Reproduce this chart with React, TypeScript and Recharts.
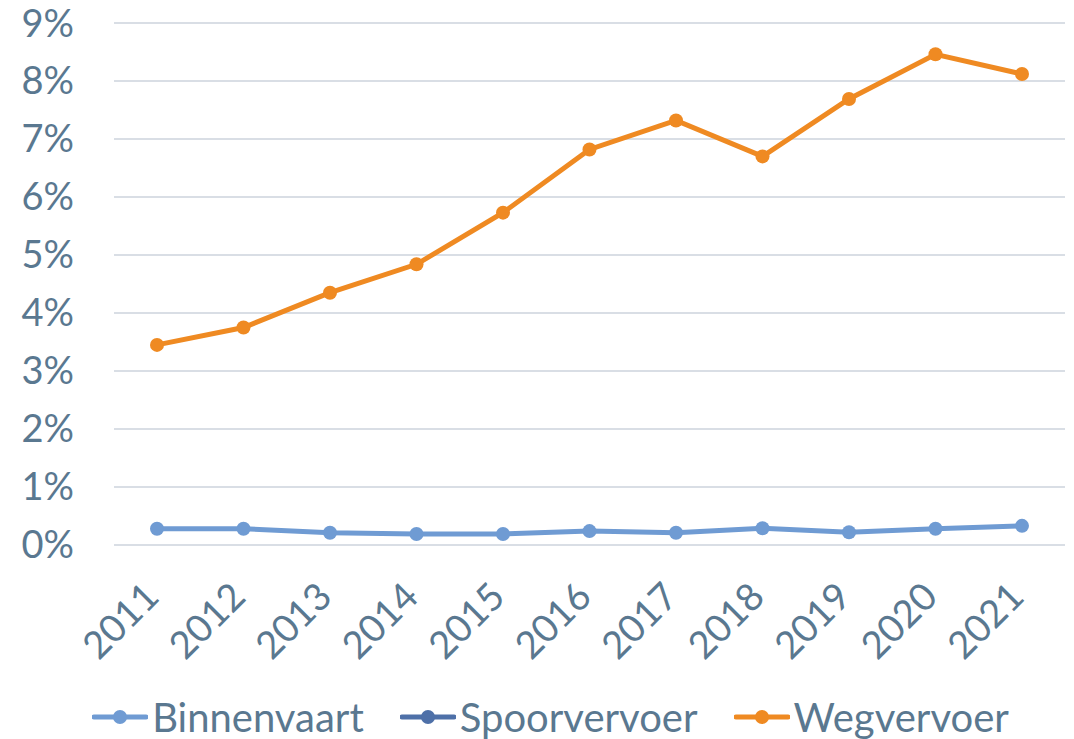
import { CartesianGrid, Legend, Line, LineChart, XAxis, YAxis } from 'recharts'

const years = ['2011', '2012', '2013', '2014', '2015', '2016', '2017', '2018', '2019', '2020', '2021']
const binnenvaart = [0.28, 0.28, 0.21, 0.19, 0.19, 0.24, 0.21, 0.29, 0.22, 0.28, 0.33]
const spoorvervoer: (number | null)[] = [null, null, null, null, null, null, null, null, null, null, null]
const wegvervoer = [3.45, 3.75, 4.35, 4.84, 5.73, 6.82, 7.32, 6.7, 7.69, 8.46, 8.12]
const yTicks = [0, 1, 2, 3, 4, 5, 6, 7, 8, 9]

const SERIES = [
  { key: 'Binnenvaart', color: '#6f9bd3' },
  { key: 'Spoorvervoer', color: '#4e70a8' },
  { key: 'Wegvervoer', color: '#ef8a22' },
]

const TEXT = '#5a7890'
const FONT = 'Lato, "Open Sans", sans-serif'

const data = years.map((year, i) => ({
  year,
  Binnenvaart: binnenvaart[i],
  Spoorvervoer: spoorvervoer[i],
  Wegvervoer: wegvervoer[i],
}))

function YearTick({ x, y, payload }: any) {
  const ax = x + 4
  const ay = y + 46
  return (
    <text
      x={ax}
      y={ay}
      transform={`rotate(-45, ${ax}, ${ay})`}
      textAnchor="end"
      fill={TEXT}
      fontSize={38}
      fontFamily={FONT}
    >
      {payload.value}
    </text>
  )
}

function LegendContent() {
  return (
    <div
      style={{
        display: 'flex',
        justifyContent: 'center',
        alignItems: 'center',
        gap: 36,
        height: 74,
        paddingTop: 30,
        paddingLeft: 36,
        boxSizing: 'border-box',
        fontFamily: FONT,
        fontSize: 40,
        color: TEXT,
      }}
    >
      {SERIES.map((s) => (
        <div key={s.key} style={{ display: 'flex', alignItems: 'center' }}>
          <svg width={56} height={20} style={{ marginRight: 4 }}>
            <line x1={2} y1={10} x2={54} y2={10} stroke={s.color} strokeWidth={5} strokeLinecap="round" />
            <circle cx={28} cy={10} r={7} fill={s.color} />
          </svg>
          <span>{s.key}</span>
        </div>
      ))}
    </div>
  )
}

export default function App() {
  return (
    <div style={{ position: 'absolute', left: 0, top: 0, background: '#fff' }}>
      <LineChart width={1074} height={739} data={data} margin={{ top: 23, right: 9, left: 0, bottom: 0 }}>
        <CartesianGrid vertical={false} stroke="#d9dee5" strokeWidth={2} />
        <XAxis
          dataKey="year"
          height={120}
          axisLine={{ stroke: '#d9dee5', strokeWidth: 2 }}
          tickLine={false}
          padding={{ left: 43, right: 43 }}
          tick={<YearTick />}
          interval={0}
        />
        <YAxis
          width={114}
          domain={[0, 9]}
          ticks={yTicks}
          axisLine={false}
          tickLine={false}
          tickSize={0}
          tickMargin={40}
          tickFormatter={(v: number) => `${v}%`}
          tick={{ fill: TEXT, fontSize: 38, fontFamily: FONT }}
        />
        <Legend verticalAlign="bottom" content={<LegendContent />} />
        {SERIES.map((s) => (
          <Line
            key={s.key}
            dataKey={s.key}
            stroke={s.color}
            strokeWidth={5}
            dot={{ r: 7, fill: s.color, stroke: s.color, strokeWidth: 0 }}
            activeDot={false}
            isAnimationActive={false}
            connectNulls={false}
          />
        ))}
      </LineChart>
    </div>
  )
}
